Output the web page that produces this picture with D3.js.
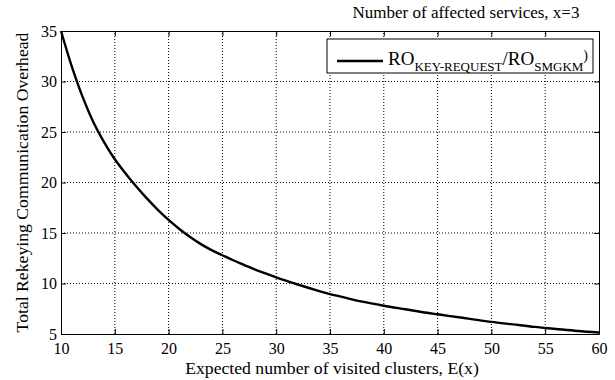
<!DOCTYPE html>
<html>
<head>
<meta charset='utf-8'>
<title>Rekeying overhead</title>
<style>
  body{margin:0;background:#fff;}
  svg text{font-family:"Liberation Serif","Times New Roman",serif;fill:#000;}
  .tick text{font-size:16px;}
  .lbl{font-size:17.7px;}
  .grid line{stroke:#000;stroke-width:1;stroke-dasharray:1,2;}
  .domain{stroke:#000;}
  .tick line{stroke:#000;}
</style>
<script src="https://d3js.org/d3.v7.min.js"></script>
</head>
<body>
<script>
// values
var clusters=[10,11,12,13,14,15,16,17,18,19,20,21,22,23,24,25,26,27,28,29,30,
              32,34,35,36,38,40,42,44,45,46,48,50,52,54,55,56,58,60];
var overhead=[35.0,31.5,28.5,26.0,24.0,22.3,20.9,19.6,18.4,17.3,16.3,15.4,14.6,13.9,13.3,12.8,12.3,11.85,11.4,11.0,10.6,
              9.9,9.25,8.95,8.7,8.2,7.8,7.45,7.1,6.95,6.8,6.5,6.2,5.95,5.7,5.6,5.5,5.3,5.15];
var xTicks=[10,15,20,25,30,35,40,45,50,55,60];
var yTicks=[5,10,15,20,25,30,35];

var width=615,height=380;
var margin={top:31,right:16,bottom:46,left:61};
var serif='"Liberation Serif","Times New Roman",serif';
var svg=d3.select("body").append("svg")
    .attr("width",width).attr("height",height);

var x=d3.scaleLinear().domain([10,60]).range([margin.left,width-margin.right]);
var y=d3.scaleLinear().domain([5,35]).range([height-margin.bottom,margin.top]);

// dotted grid
var grid=svg.append("g").attr("class","grid");
grid.selectAll(".gx").data(xTicks.slice(1,-1)).enter().append("line")
    .attr("x1",function(d){return x(d);}).attr("x2",function(d){return x(d);})
    .attr("y1",y(5)).attr("y2",y(35));
grid.selectAll(".gy").data(yTicks.slice(1,-1)).enter().append("line")
    .attr("x1",x(10)).attr("x2",x(60))
    .attr("y1",function(d){return y(d);}).attr("y2",function(d){return y(d);});

// axes, ticks inward on all sides
svg.append("g").attr("transform","translate(0,"+y(5)+")")
    .call(d3.axisBottom(x).tickValues(xTicks).tickSizeInner(-5).tickSizeOuter(0).tickPadding(9))
    .attr("font-family",serif).attr("font-size",16);
svg.append("g").attr("transform","translate(0,"+y(35)+")")
    .call(d3.axisTop(x).tickValues(xTicks).tickSizeInner(-5).tickSizeOuter(0).tickFormat(""));
svg.append("g").attr("transform","translate("+x(10)+",0)")
    .call(d3.axisLeft(y).tickValues(yTicks).tickSizeInner(-5).tickSizeOuter(0).tickPadding(4))
    .attr("font-family",serif).attr("font-size",16);
svg.append("g").attr("transform","translate("+x(60)+",0)")
    .call(d3.axisRight(y).tickValues(yTicks).tickSizeInner(-5).tickSizeOuter(0).tickFormat(""));

// curve
var line=d3.line()
    .x(function(d,i){return x(clusters[i]);})
    .y(function(d){return y(d);})
    .curve(d3.curveCatmullRom.alpha(0.5));
svg.append("path").datum(overhead)
    .attr("d",line)
    .attr("fill","none").attr("stroke","#000").attr("stroke-width",2.4);

// labels
svg.append("text").attr("class","lbl")
    .attr("x",(x(10)+x(60))/2+2).attr("y",374)
    .attr("text-anchor","middle")
    .text("Expected number of visited clusters, E(x)");
svg.append("text").attr("class","lbl")
    .attr("transform","translate(28,"+((y(5)+y(35))/2)+") rotate(-90)")
    .attr("text-anchor","middle")
    .text("Total Rekeying Communication Overhead");
svg.append("text").attr("class","lbl")
    .attr("x",466).attr("y",18)
    .attr("text-anchor","middle")
    .style("font-size","17px")
    .text("Number of affected services, x=3");

// legend
var leg=svg.append("g").attr("transform","translate(327,39)");
leg.append("rect").attr("width",266).attr("height",34)
    .attr("fill","#fff").attr("stroke","#000").attr("stroke-width",1);
leg.append("line").attr("x1",10).attr("x2",56).attr("y1",22).attr("y2",22)
    .attr("stroke","#000").attr("stroke-width",2.4);
var lt=leg.append("text").attr("x",61).attr("y",26).style("font-size","19px");
lt.append("tspan").text("RO");
lt.append("tspan").attr("dy",6).style("font-size","13px").text("KEY-REQUEST");
lt.append("tspan").attr("dy",-6).text("/RO");
lt.append("tspan").attr("dy",6).style("font-size","13px").text("SMGKM");
lt.append("tspan").attr("dy",-11).style("font-size","14px").text(")");
</script>
</body>
</html>
